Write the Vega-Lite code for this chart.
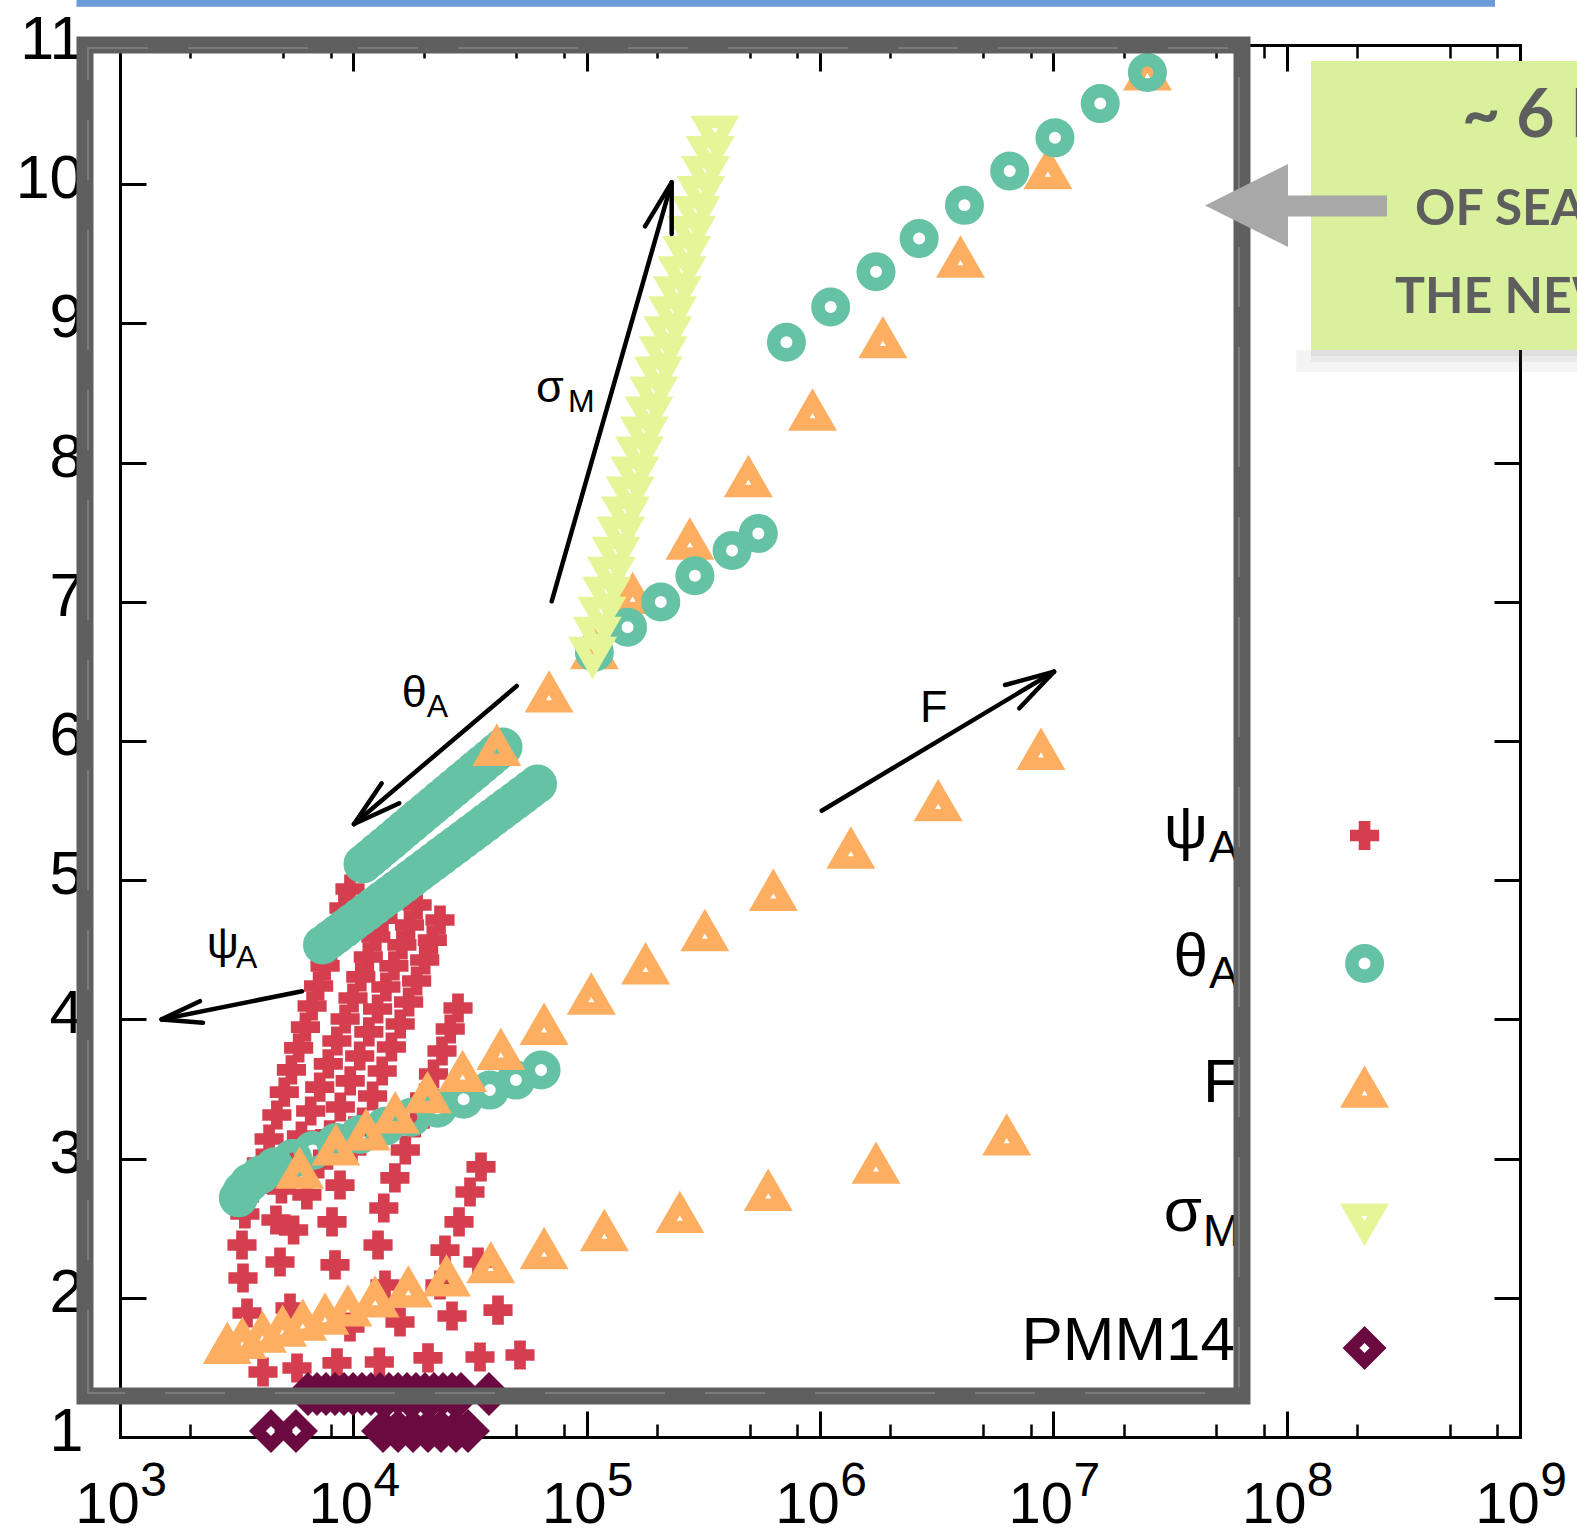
{
  "$schema": "https://vega.github.io/schema/vega-lite/v6.json",
  "width": 1400,
  "height": 1392,
  "autosize": {"type": "none"},
  "padding": {"left": 120, "top": 45, "right": 57, "bottom": 98},
  "background": "#ffffff",
  "config": {"view": {"stroke": null}, "axis": {"grid": false}, "text": {"font": "Liberation Sans"}},
  "resolve": {"axis": {"x": "independent", "y": "independent"}},
  "encoding": {
    "x": {"field": "x", "type": "quantitative", "scale": {"type": "log", "domain": [1000, 1000000000], "nice": false}, "axis": null},
    "y": {"field": "y", "type": "quantitative", "scale": {"domain": [1, 11], "nice": false, "zero": false}, "axis": null}
  },
  "datasets": {
    "psi": [
      {"x":9676,"y":4.937},{"x":9112,"y":4.8},{"x":8570,"y":4.664},{"x":8070,"y":4.527},{"x":7568,"y":4.384},{"x":7099,"y":4.24},{"x":6657,"y":4.096},{"x":6232,"y":3.945},{"x":5829,"y":3.795},{"x":5428,"y":3.637},{"x":5060,"y":3.478},{"x":4703,"y":3.313},{"x":4355,"y":3.141},{"x":4036,"y":2.968},{"x":3726,"y":2.789},{"x":3430,"y":2.602},{"x":3333,"y":2.379},{"x":3366,"y":2.142},{"x":3502,"y":1.891},
      {"x":14360,"y":4.865},{"x":13390,"y":4.728},{"x":12484,"y":4.592},{"x":11595,"y":4.448},{"x":10765,"y":4.305},{"x":9967,"y":4.154},{"x":9220,"y":4.003},{"x":8502,"y":3.845},{"x":7811,"y":3.68},{"x":7177,"y":3.514},{"x":6566,"y":3.342},{"x":5992,"y":3.162},{"x":5438,"y":2.976},{"x":4921,"y":2.782},{"x":4661,"y":2.559},{"x":4849,"y":2.257},{"x":5354,"y":1.927},
      {"x":18762,"y":4.822},{"x":17406,"y":4.678},{"x":16150,"y":4.535},{"x":14924,"y":4.384},{"x":13791,"y":4.233},{"x":12705,"y":4.075},{"x":11653,"y":3.91},{"x":10649,"y":3.737},{"x":9696,"y":3.558},{"x":8795,"y":3.371},{"x":7920,"y":3.17},{"x":7106,"y":2.961},{"x":6324,"y":2.739},{"x":5546,"y":2.487},
      {"x":23520,"y":4.714},{"x":21805,"y":4.57},{"x":20222,"y":4.427},{"x":18669,"y":4.276},{"x":17253,"y":4.125},{"x":15880,"y":3.967},{"x":14560,"y":3.802},{"x":13295,"y":3.629},{"x":12094,"y":3.45},{"x":10958,"y":3.263},{"x":9860,"y":3.062},{"x":8768,"y":2.81},{"x":8102,"y":2.545},{"x":8345,"y":2.236},{"x":9676,"y":1.79},
      {"x":28093,"y":4.082},{"x":26016,"y":3.931},{"x":23988,"y":3.773},{"x":22060,"y":3.608},{"x":20204,"y":3.435},{"x":18432,"y":3.256},{"x":16700,"y":3.062},{"x":15071,"y":2.861},{"x":13507,"y":2.645},{"x":12759,"y":2.379},{"x":13668,"y":2.092},{"x":15849,"y":1.826},
      {"x":35250,"y":2.94},{"x":31623,"y":2.76},{"x":28373,"y":2.545},{"x":24709,"y":2.343},{"x":23520,"y":2.092},{"x":26476,"y":1.869},
      {"x":34222,"y":2.257},{"x":41687,"y":1.912},
      {"x":4101,"y":1.467},{"x":5736,"y":1.496},{"x":8511,"y":1.532},{"x":12926,"y":1.539},{"x":20893,"y":1.568},{"x":34905,"y":1.575},{"x":51800,"y":1.589}
    ],
    "thetaLow": [
      {"x":63770,"y":3.636},{"x":49750,"y":3.564},{"x":38440,"y":3.492},{"x":29690,"y":3.427},{"x":22940,"y":3.362},{"x":17720,"y":3.297},{"x":13690,"y":3.232},{"x":10680,"y":3.174},{"x":8420,"y":3.116},{"x":6700,"y":3.058},{"x":5495,"y":3.0},{"x":4596,"y":2.942},{"x":4000,"y":2.884},{"x":3585,"y":2.827},{"x":3345,"y":2.769},{"x":3215,"y":2.718},
      {"x":7377,"y":4.534},{"x":7937,"y":4.574},{"x":8539,"y":4.614},{"x":9187,"y":4.654},{"x":9885,"y":4.694},{"x":10635,"y":4.734},{"x":11442,"y":4.774},{"x":12311,"y":4.814},{"x":13245,"y":4.854},{"x":14250,"y":4.893},{"x":15332,"y":4.933},{"x":16495,"y":4.973},{"x":17747,"y":5.013},{"x":19094,"y":5.053},{"x":20543,"y":5.093},{"x":22102,"y":5.133},{"x":23780,"y":5.173},{"x":25585,"y":5.213},{"x":27527,"y":5.252},{"x":29616,"y":5.292},{"x":31864,"y":5.332},{"x":34283,"y":5.372},{"x":36885,"y":5.412},{"x":39684,"y":5.452},{"x":42696,"y":5.492},{"x":45937,"y":5.532},{"x":49423,"y":5.571},{"x":53175,"y":5.611},{"x":57211,"y":5.651},{"x":61553,"y":5.691},
      {"x":11002,"y":5.116},{"x":11789,"y":5.158},{"x":12632,"y":5.2},{"x":13536,"y":5.242},{"x":14504,"y":5.284},{"x":15541,"y":5.327},{"x":16653,"y":5.369},{"x":17844,"y":5.411},{"x":19120,"y":5.453},{"x":20488,"y":5.495},{"x":21953,"y":5.537},{"x":23523,"y":5.579},{"x":25205,"y":5.621},{"x":27008,"y":5.663},{"x":28940,"y":5.705},{"x":31010,"y":5.747},{"x":33228,"y":5.789},{"x":35604,"y":5.831},{"x":38150,"y":5.873},{"x":40879,"y":5.915},{"x":43802,"y":5.957}
    ],
    "fval": [
      {"x":41200,"y":5.951},{"x":69000,"y":6.334},{"x":107900,"y":6.645},{"x":157400,"y":7.042},{"x":277000,"y":7.433},{"x":493000,"y":7.881},{"x":929000,"y":8.359},{"x":1860000,"y":8.879},{"x":4000000,"y":9.458},{"x":9480000,"y":10.094},{"x":25300000,"y":10.803},
      {"x":5890,"y":2.913},{"x":8420,"y":3.08},{"x":11340,"y":3.188},{"x":15120,"y":3.311},{"x":20780,"y":3.456},{"x":29400,"y":3.608},{"x":42870,"y":3.767},{"x":65700,"y":3.947},{"x":104700,"y":4.164},{"x":178900,"y":4.381},{"x":321000,"y":4.62},{"x":631000,"y":4.909},{"x":1356000,"y":5.213},{"x":3210000,"y":5.553},{"x":8850000,"y":5.922},
      {"x":2883,"y":1.655},{"x":3345,"y":1.691},{"x":4080,"y":1.735},{"x":4977,"y":1.778},{"x":6070,"y":1.821},{"x":7570,"y":1.865},{"x":9480,"y":1.923},{"x":12400,"y":1.988},{"x":17200,"y":2.06},{"x":25080,"y":2.14},{"x":38820,"y":2.234},{"x":65700,"y":2.335},{"x":119100,"y":2.465},{"x":250800,"y":2.595},{"x":600000,"y":2.754},{"x":1738000,"y":2.949},{"x":6310000,"y":3.152}
    ],
    "thetaHigh": [
      {"x":25300000,"y":10.803},{"x":15890000,"y":10.579},{"x":10160000,"y":10.333},{"x":6500000,"y":10.094},{"x":4160000,"y":9.848},{"x":2660000,"y":9.61},{"x":1738000,"y":9.371},{"x":1111000,"y":9.118},{"x":718000,"y":8.865},
      {"x":544000,"y":7.491},{"x":420000,"y":7.368},{"x":291000,"y":7.187},{"x":207800,"y":6.999},{"x":149700,"y":6.818},{"x":107900,"y":6.638}
    ],
    "sigma": [
      {"x":105900,"y":6.618},{"x":110960,"y":6.762},{"x":116240,"y":6.906},{"x":121770,"y":7.05},{"x":127560,"y":7.194},{"x":133630,"y":7.338},{"x":139990,"y":7.482},{"x":146650,"y":7.626},{"x":153620,"y":7.77},{"x":160930,"y":7.914},{"x":168590,"y":8.058},{"x":176610,"y":8.202},{"x":185010,"y":8.345},{"x":193810,"y":8.489},{"x":203030,"y":8.633},{"x":212690,"y":8.777},{"x":222810,"y":8.921},{"x":233410,"y":9.065},{"x":244510,"y":9.209},{"x":256140,"y":9.353},{"x":268330,"y":9.497},{"x":281090,"y":9.641},{"x":294460,"y":9.785},{"x":308470,"y":9.929},{"x":323150,"y":10.073},{"x":338520,"y":10.217},{"x":354620,"y":10.361}
    ],
    "pmm": [
      {"x":4437,"y":1.043},{"x":5679,"y":1.043},{"x":13405,"y":1.043},{"x":15540,"y":1.043},{"x":18020,"y":1.043},{"x":20890,"y":1.043},{"x":23750,"y":1.043},{"x":27540,"y":1.043},{"x":31000,"y":1.043},
      {"x":6393,"y":1.309},{"x":6987,"y":1.309},{"x":7636,"y":1.309},{"x":8345,"y":1.309},{"x":9120,"y":1.309},{"x":9968,"y":1.309},{"x":10892,"y":1.309},{"x":11904,"y":1.309},{"x":13010,"y":1.309},{"x":14218,"y":1.309},{"x":15540,"y":1.309},{"x":16982,"y":1.309},{"x":18560,"y":1.309},{"x":20280,"y":1.309},{"x":22167,"y":1.309},{"x":24226,"y":1.309},{"x":26477,"y":1.309},{"x":28930,"y":1.309},{"x":38140,"y":1.309}
    ],
    "keys": [
      {"s":"psi","x":215700000,"y":5.321},{"s":"theta","x":215700000,"y":4.402},{"s":"F","x":215700000,"y":3.495},{"s":"sigma","x":215700000,"y":2.547},{"s":"pmm","x":215700000,"y":1.639}
    ],
    "arrows": [
      {"x":70816,"y":7.0036,"x2":231400,"y2":10.0136},{"x":231400,"y":10.0136,"x2":177830,"y2":9.6976},{"x":231400,"y":10.0136,"x2":231400,"y2":9.6422},
      {"x":50138,"y":6.3951,"x2":10066,"y2":5.4037},{"x":10066,"y":5.4037,"x2":13230,"y2":5.6961},{"x":10066,"y":5.4037,"x2":15740,"y2":5.5524},
      {"x":6026,"y":4.2019,"x2":1508,"y2":4.0},{"x":1508,"y":4.0,"x2":2200,"y2":4.1307},{"x":1508,"y":4.0,"x2":2268,"y2":3.9763},
      {"x":1016900,"y":5.4993,"x2":10067000,"y2":6.4978},{"x":10067000,"y":6.4978,"x2":6207700,"y2":6.4023},{"x":10067000,"y":6.4978,"x2":7147800,"y2":6.2349}
    ]
  },
  "layer": [
    {
      "data": {"values": [{"x": 651, "x2": 781300000, "y": 11.275, "y2": 11.6}]},
      "mark": {"type": "rect", "color": "#6b9bd9"},
      "encoding": {"x2": {"field": "x2"}, "y2": {"field": "y2"}}
    },
    {
      "data": {"name": "psi"},
      "mark": {"type": "point", "shape": "cross", "filled": true, "color": "#d53e4f", "size": 850, "opacity": 1, "strokeWidth": 0},
      "encoding": {
        "x": {"field": "x", "type": "quantitative", "scale": {"type": "log", "domain": [1000, 1000000000], "nice": false},
          "axis": {"orient": "bottom", "values": [1000, 10000, 100000, 1000000, 10000000, 100000000, 1000000000], "ticks": false, "domain": true, "domainColor": "#000000", "domainWidth": 3, "domainCap": "square", "labelExpr": "'10'", "labelFont": "Liberation Sans", "labelFontSize": 58, "labelColor": "#000000", "labelPadding": 39, "labelOffset": -13, "labelFlush": false, "labelOverlap": false, "labelBound": false, "title": null, "grid": false}},
        "y": {"field": "y", "type": "quantitative", "scale": {"domain": [1, 11], "nice": false, "zero": false},
          "axis": {"orient": "left", "values": [1, 2, 3, 4, 5, 6, 7, 8, 9, 10, 11], "ticks": false, "domain": true, "domainColor": "#000000", "domainWidth": 3, "domainCap": "square", "labelFont": "Liberation Sans", "labelFontSize": 61, "labelColor": "#000000", "labelPadding": 37, "labelOffset": -4.5, "labelFlush": false, "labelOverlap": false, "labelBound": false, "title": null, "grid": false}}
      }
    },
    {
      "data": {"name": "thetaLow"},
      "mark": {"type": "point", "shape": "circle", "filled": false, "color": "#66c2a5", "strokeWidth": 13.5, "size": 650, "opacity": 1},
      "encoding": {
        "x": {"field": "x", "type": "quantitative", "scale": {"type": "log", "domain": [1000, 1000000000], "nice": false},
          "axis": {"orient": "bottom", "values": [1000, 10000, 100000, 1000000, 10000000, 100000000, 1000000000], "labels": false, "domain": false, "tickSize": -26, "tickWidth": 3, "tickColor": "#000000", "title": null, "grid": false}},
        "y": {"field": "y", "type": "quantitative", "scale": {"domain": [1, 11], "nice": false, "zero": false},
          "axis": {"orient": "left", "values": [1, 2, 3, 4, 5, 6, 7, 8, 9, 10, 11], "labels": false, "domain": false, "tickSize": -26, "tickWidth": 3, "tickColor": "#000000", "title": null, "grid": false}}
      }
    },
    {
      "data": {"name": "fval"},
      "mark": {"type": "point", "shape": "triangle-up", "filled": false, "color": "#fdae61", "strokeWidth": 12.4, "size": 756, "opacity": 1, "strokeJoin": "miter"},
      "encoding": {
        "x": {"field": "x", "type": "quantitative", "scale": {"type": "log", "domain": [1000, 1000000000], "nice": false},
          "axis": {"orient": "bottom", "values": [2000, 5000, 8000, 20000, 50000, 80000, 200000, 500000, 800000, 2000000, 5000000, 8000000, 20000000, 50000000, 80000000, 200000000, 500000000, 800000000], "labels": false, "domain": false, "tickSize": -13, "tickWidth": 2.5, "tickColor": "#000000", "title": null, "grid": false}},
        "y": {"field": "y", "type": "quantitative", "scale": {"domain": [1, 11], "nice": false, "zero": false},
          "axis": {"orient": "right", "values": [1, 2, 3, 4, 5, 6, 7, 8, 9, 10, 11], "labels": false, "domain": true, "domainColor": "#000000", "domainWidth": 3, "domainCap": "square", "tickSize": -26, "tickWidth": 3, "tickColor": "#000000", "title": null, "grid": false}}
      }
    },
    {
      "data": {"name": "thetaHigh"},
      "mark": {"type": "point", "shape": "circle", "filled": false, "color": "#66c2a5", "strokeWidth": 13.5, "size": 650, "opacity": 1},
      "encoding": {
        "x": {"field": "x", "type": "quantitative", "scale": {"type": "log", "domain": [1000, 1000000000], "nice": false},
          "axis": {"orient": "top", "values": [1000, 10000, 100000, 1000000, 10000000, 100000000, 1000000000], "labels": false, "domain": true, "domainColor": "#000000", "domainWidth": 3, "domainCap": "square", "tickSize": -26, "tickWidth": 3, "tickColor": "#000000", "title": null, "grid": false}}
      }
    },
    {
      "data": {"name": "sigma"},
      "mark": {"type": "point", "shape": "triangle-down", "filled": false, "color": "#e6f598", "strokeWidth": 12.4, "size": 756, "opacity": 1, "strokeJoin": "miter"},
      "encoding": {
        "x": {"field": "x", "type": "quantitative", "scale": {"type": "log", "domain": [1000, 1000000000], "nice": false},
          "axis": {"orient": "top", "values": [2000, 5000, 8000, 20000, 50000, 80000, 200000, 500000, 800000, 2000000, 5000000, 8000000, 20000000, 50000000, 80000000, 200000000, 500000000, 800000000], "labels": false, "domain": false, "tickSize": -13, "tickWidth": 2.5, "tickColor": "#000000", "title": null, "grid": false}}
      }
    },
    {
      "data": {"name": "pmm"},
      "mark": {"type": "point", "shape": "diamond", "filled": false, "color": "#6b0a40", "strokeWidth": 12, "size": 729, "opacity": 1, "strokeJoin": "miter"},
      "encoding": {
        "x": {"field": "x", "type": "quantitative", "scale": {"type": "log", "domain": [1000, 1000000000], "nice": false},
          "axis": {"orient": "bottom", "values": [1000, 10000, 100000, 1000000, 10000000, 100000000, 1000000000], "ticks": false, "domain": false, "labelExpr": "'' + round(log(datum.value) / LN10)", "labelFont": "Liberation Sans", "labelFontSize": 48, "labelColor": "#000000", "labelPadding": 20, "labelOffset": 33, "labelFlush": false, "labelOverlap": false, "labelBound": false, "title": null, "grid": false}}
      }
    },
    {
      "data": {"name": "keys"},
      "transform": [{"filter": "datum.s === 'psi'"}],
      "mark": {"type": "point", "shape": "cross", "filled": true, "color": "#d53e4f", "size": 850, "opacity": 1, "strokeWidth": 0}
    },
    {
      "data": {"name": "keys"},
      "transform": [{"filter": "datum.s === 'theta'"}],
      "mark": {"type": "point", "shape": "circle", "filled": false, "color": "#66c2a5", "strokeWidth": 13.5, "size": 650, "opacity": 1}
    },
    {
      "data": {"name": "keys"},
      "transform": [{"filter": "datum.s === 'F'"}],
      "mark": {"type": "point", "shape": "triangle-up", "filled": false, "color": "#fdae61", "strokeWidth": 12.4, "size": 756, "opacity": 1, "strokeJoin": "miter"}
    },
    {
      "data": {"name": "keys"},
      "transform": [{"filter": "datum.s === 'sigma'"}],
      "mark": {"type": "point", "shape": "triangle-down", "filled": false, "color": "#e6f598", "strokeWidth": 12.4, "size": 756, "opacity": 1, "strokeJoin": "miter"}
    },
    {
      "data": {"name": "keys"},
      "transform": [{"filter": "datum.s === 'pmm'"}],
      "mark": {"type": "point", "shape": "diamond", "filled": false, "color": "#6b0a40", "strokeWidth": 12, "size": 729, "opacity": 1, "strokeJoin": "miter"}
    },
    {
      "data": {"name": "arrows"},
      "mark": {"type": "rule", "color": "#000000", "strokeWidth": 4.5, "strokeCap": "round"},
      "encoding": {"x2": {"field": "x2"}, "y2": {"field": "y2"}}
    },
    {
      "data": {"values": [{"x": 60650, "y": 8.4353, "t": "σ"}, {"x": 16120, "y": 6.2464, "t": "θ"}, {"x": 2352, "y": 4.4411, "t": "ψ"}, {"x": 2683000, "y": 6.1386, "t": "F"}]},
      "mark": {"type": "text", "font": "Liberation Sans", "fontSize": 45, "align": "left", "baseline": "alphabetic", "color": "#000000"},
      "encoding": {"text": {"field": "t"}}
    },
    {
      "data": {"values": [{"x": 83176, "y": 8.3635, "t": "M"}, {"x": 20630, "y": 6.1746, "t": "A"}, {"x": 3142, "y": 4.3728, "t": "A"}]},
      "mark": {"type": "text", "font": "Liberation Sans", "fontSize": 32, "align": "left", "baseline": "alphabetic", "color": "#000000"},
      "encoding": {"text": {"field": "t"}}
    },
    {
      "data": {"values": [{"x": 46010000, "y": 5.2313, "t": "ψ"}, {"x": 46010000, "y": 4.3118, "t": "θ"}, {"x": 63720000, "y": 3.4066, "t": "F"}, {"x": 43360000, "y": 2.4799, "t": "σ"}, {"x": 60060000, "y": 1.5532, "t": "PMM14"}]},
      "mark": {"type": "text", "font": "Liberation Sans", "fontSize": 62, "align": "right", "baseline": "alphabetic", "color": "#000000"},
      "encoding": {"text": {"field": "t"}}
    },
    {
      "data": {"values": [{"x": 46460000, "y": 5.1307, "t": "A"}, {"x": 46460000, "y": 4.2256, "t": "A"}, {"x": 43790000, "y": 2.3757, "t": "M"}]},
      "mark": {"type": "text", "font": "Liberation Sans", "fontSize": 45, "align": "left", "baseline": "alphabetic", "color": "#000000"},
      "encoding": {"text": {"field": "t"}}
    },
    {
      "data": {"values": [{"x": 707.9, "x2": 64350000, "y": 11.0, "y2": 1.2945}]},
      "mark": {"type": "rect", "filled": false, "stroke": "#5f5f5f", "strokeWidth": 17, "strokeJoin": "miter"},
      "encoding": {"x2": {"field": "x2"}, "y2": {"field": "y2"}}
    },
    {
      "data": {"values": [{"x": 729.3, "x2": 62490000, "y": 10.9784, "y2": 1.3161}]},
      "mark": {"type": "rect", "filled": false, "stroke": "#8e8e8e", "strokeWidth": 1.5, "strokeDash": [60, 40, 120, 50], "opacity": 0.8},
      "encoding": {"x2": {"field": "x2"}, "y2": {"field": "y2"}}
    },
    {
      "data": {"values": [{"x": 127180000, "x2": 2200000000, "y": 8.766, "y2": 8.809}, {"x": 127180000, "x2": 2200000000, "y": 8.723, "y2": 8.809}, {"x": 110000000, "x2": 2200000000, "y": 8.651, "y2": 8.809}]},
      "mark": {"type": "rect", "color": "#6a6a6a", "opacity": 0.07},
      "encoding": {"x2": {"field": "x2"}, "y2": {"field": "y2"}}
    },
    {
      "data": {"values": [{"x": 127180000, "x2": 2200000000, "y": 8.809, "y2": 10.885}]},
      "mark": {"type": "rect", "color": "#d9f09d"},
      "encoding": {"x2": {"field": "x2"}, "y2": {"field": "y2"}}
    },
    {
      "data": {"values": [{"x": 564100000, "y": 10.3391, "t": "~ 6 MONTHS"}]},
      "mark": {"type": "text", "font": "Lato", "fontWeight": "bold", "fontSize": 66, "align": "left", "baseline": "alphabetic", "color": "#5e5e5e"},
      "encoding": {"text": {"field": "t"}}
    },
    {
      "data": {"values": [{"x": 354800000, "y": 9.7069, "t": "OF SEARCH"}, {"x": 291330000, "y": 9.0747, "t": "THE NEW"}]},
      "mark": {"type": "text", "font": "Lato", "fontWeight": "bold", "fontSize": 50, "align": "left", "baseline": "alphabetic", "color": "#5e5e5e"},
      "encoding": {"text": {"field": "t"}}
    },
    {
      "data": {"values": [{"x": 101320000, "x2": 269200000, "y": 9.768, "y2": 9.9188}]},
      "mark": {"type": "rect", "color": "#a8a8a8"},
      "encoding": {"x2": {"field": "x2"}, "y2": {"field": "y2"}}
    },
    {
      "data": {"values": [{"x": 67270000, "y": 9.847}]},
      "mark": {"type": "point", "shape": "M -1 0 L 1 -1 L 1 1 Z", "filled": true, "color": "#a8a8a8", "size": 6889, "opacity": 1, "strokeWidth": 0}
    }
  ]
}
